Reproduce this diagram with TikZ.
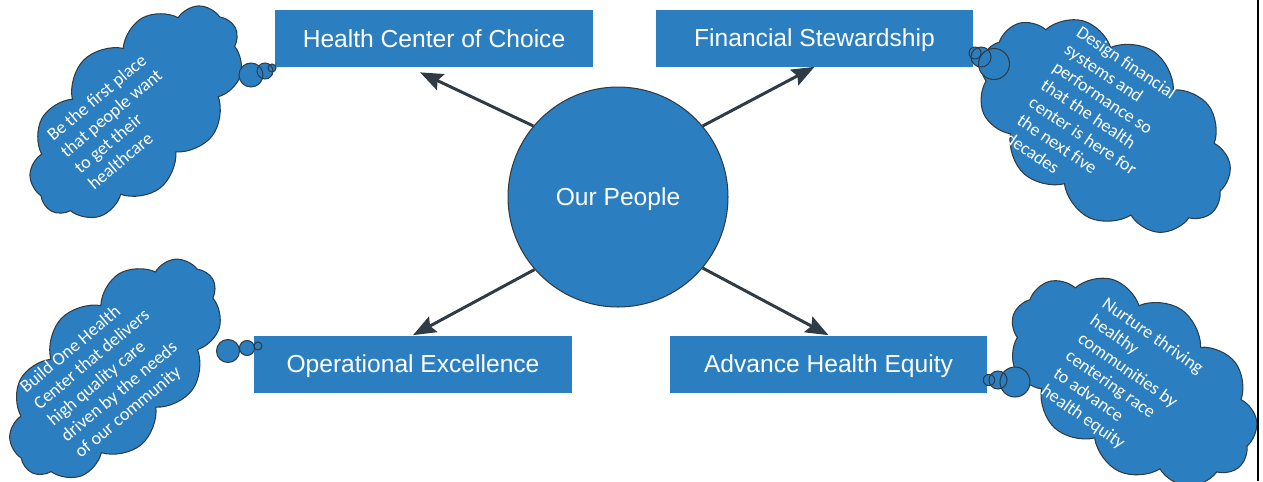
\documentclass[tikz,border=0pt]{standalone}
\usepackage{fontspec}
\newfontfamily\boxfont{Liberation Sans}
\newfontfamily\cloudfont{Carlito}
\usetikzlibrary{arrows.meta,shapes.symbols}
\definecolor{goalblue}{HTML}{2B7FC1}
\definecolor{edgegray}{HTML}{2F3B45}
\tikzset{goal/.style = {fill=goalblue, text=white, minimum width=6.36cm, minimum height=1.14cm, inner sep=0, text height=10pt, text depth=0pt, font=\boxfont\fontsize{14}{16}\selectfont}}
\tikzset{arr/.style = {draw=edgegray, line width=1.7pt, -{Stealth[length=13pt,width=10pt,inset=2pt]}}}
\tikzset{thought/.style = {cloud, cloud puffs=11, cloud puff arc=115, cloud ignores aspect, fill=goalblue, draw=edgegray, line width=0.6pt, inner sep=0}}
\tikzset{note/.style = {text=white, align=left, inner sep=0, font=\cloudfont\fontsize{10.3}{12.1}\selectfont}}
\tikzset{bubble/.style = {draw=edgegray, line width=0.6pt}}

\begin{document}
\begin{tikzpicture}[x=0.02cm, y=-0.02cm]
  \useasboundingbox (0,0) rectangle (1263,481);
  \draw [line width=1.4pt] (1258,0) -- (1258,481);

  % clouds
  \node [thought, rotate=45, minimum width=5.25cm, minimum height=2.95cm] (c1) at (136,112) {};
  \node [thought, rotate=47, minimum width=5.35cm, minimum height=2.95cm] (c3) at (115,369) {};
  \node [thought, rotate=-34, minimum width=5.6cm, minimum height=3.55cm] (c2) at (1104,125) {};
  \node [thought, rotate=-34, minimum width=5.5cm, minimum height=3.45cm] (c4) at (1133,381) {};

  \node [note, rotate=40] (t1) at (118,121) {Be the first place\\that people want\\to get their\\healthcare};
  \node [note, rotate=40] (t3) at (106,376) {Build One Health\\Center that delivers\\high quality care\\driven by the needs\\of our community};
  \node [note, rotate=-34] (t2) at (1095,118) {Design financial\\systems and\\performance so\\that the health\\center is here for\\the next five\\decades};
  \node [note, rotate=-35] (t4) at (1122,380) {Nurture thriving\\healthy\\communities by\\centering race\\to advance\\health equity};

  % goals
  \node [goal] (hcc) at (434,38.5) {Health Center of Choice};
  \node [goal] (fs) at (814.5,38) {Financial Stewardship};
  \node [goal] (oe) at (413,364) {Operational Excellence};
  \node [goal] (ahe) at (828.5,364) {Advance Health Equity};

  % thought bubbles
  \foreach \cx/\cy/\r in {251/75/12, 265/71/8, 272/68/4, 228/351/11.5, 247/348/7.5, 258/346/4,
                          994/64/15.5, 981/57/10, 975/53/6, 1015/382/15, 998/380/9, 989/380/5.7}
    \fill [goalblue] (\cx,\cy) circle (\r);
  \foreach \cx/\cy/\r in {251/75/12, 265/71/8, 272/68/4, 228/351/11.5, 247/348/7.5, 258/346/4,
                          994/64/15.5, 981/57/10, 975/53/6, 1015/382/15, 998/380/9, 989/380/5.7}
    \draw [bubble] (\cx,\cy) circle (\r);

  \node [circle, fill=goalblue, draw=edgegray, line width=0.6pt, minimum size=4.4cm, text=white,
         text height=10pt, text depth=0pt, font=\boxfont\fontsize{14}{16}\selectfont] (ppl) at (618,197) {Our People};

  \draw [arr] (ppl.140) -- ([xshift=-0.28cm,yshift=-0.1cm]hcc.south);
  \draw [arr] (ppl.40) -- (fs.south);
  \draw [arr] (ppl.221) -- (oe.north);
  \draw [arr] (ppl.320) -- (ahe.north);
\end{tikzpicture}
\end{document}
